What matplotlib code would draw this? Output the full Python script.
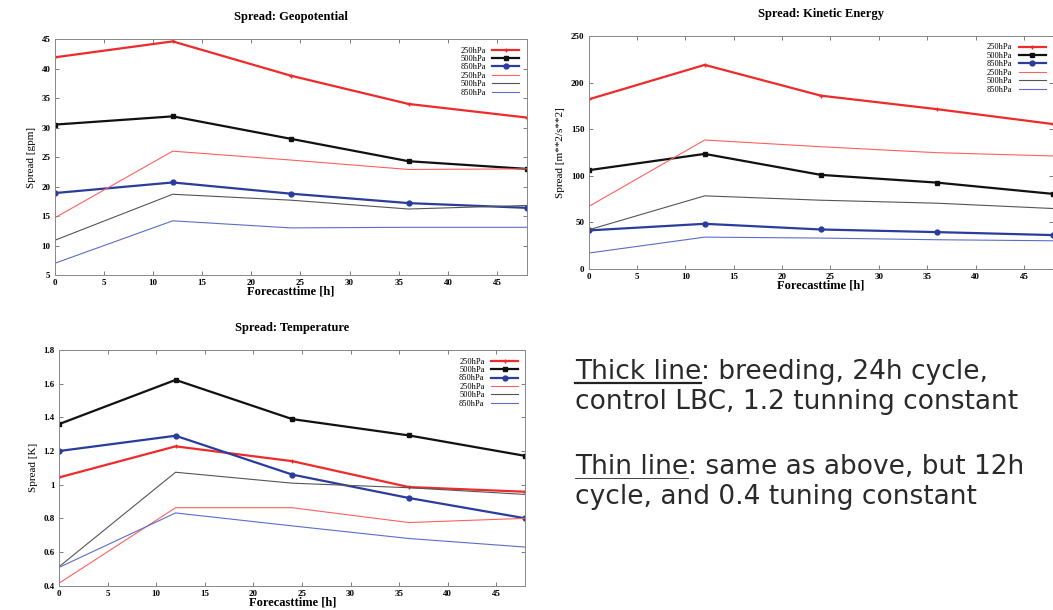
import matplotlib
matplotlib.use("Agg")
from matplotlib import pyplot as plt
from matplotlib.lines import Line2D

hours = [0, 12, 24, 36, 48]
levels = ['250hPa', '500hPa', '850hPa']

# geopotential spread [gpm]
geo_thick_250 = [41.9, 44.6, 38.8, 34.0, 31.7]
geo_thick_500 = [30.5, 31.9, 28.1, 24.3, 23.0]
geo_thick_850 = [18.9, 20.7, 18.8, 17.2, 16.4]
geo_thin_250 = [14.7, 26.0, 24.5, 22.9, 23.0]
geo_thin_500 = [10.9, 18.7, 17.7, 16.2, 16.8]
geo_thin_850 = [7.0, 14.2, 13.0, 13.1, 13.1]

# kinetic energy spread [m**2/s**2]
ke_thick_250 = [182, 219, 186, 171.5, 155.5]
ke_thick_500 = [106, 123.5, 101, 92.7, 80.6]
ke_thick_850 = [41.4, 48.5, 42.4, 39.6, 36.4]
ke_thin_250 = [67, 138.4, 131.2, 124.8, 121.3]
ke_thin_500 = [42, 78.5, 73.8, 70.6, 64.9]
ke_thin_850 = [17.1, 34.2, 33.2, 31.4, 30.3]

# temperature spread [K]
t_thick_250 = [1.043, 1.228, 1.14, 0.986, 0.958]
t_thick_500 = [1.36, 1.623, 1.39, 1.293, 1.171]
t_thick_850 = [1.20, 1.291, 1.06, 0.921, 0.80]
t_thin_250 = [0.414, 0.863, 0.863, 0.775, 0.80]
t_thin_500 = [0.512, 1.074, 1.009, 0.982, 0.942]
t_thin_850 = [0.508, 0.832, 0.755, 0.68, 0.629]

thick_colors = ['#ee2a2a', '#111111', '#2a3c9c']
thin_colors = ['#ff6060', '#555555', '#5a6ec8']
markers = ['+', 's', 'o']

serif = 'Liberation Serif'

fig = plt.figure(figsize=(10.53, 6.10), dpi=100)


def panel(rect, title, ylabel, thick, thin, ylim, yticks, yticklabels):
    ax = fig.add_axes(rect)
    for i in range(3):
        ax.plot(hours, thick[i], color=thick_colors[i], lw=1.6,
                marker=markers[i], ms=3.5, mew=1.0, label=levels[i])
    for i in range(3):
        ax.plot(hours, thin[i], color=thin_colors[i], lw=0.8, label=levels[i])
    ax.set_xlim(0, 48)
    ax.set_ylim(*ylim)
    ax.set_xticks(range(0, 50, 5))
    ax.set_yticks(yticks)
    ax.set_yticklabels(yticklabels)
    ax.tick_params(direction='in', top=True, right=True, length=3,
                   width=0.6, color='#666666', labelsize=6.5, pad=3)
    for lab in ax.get_xticklabels() + ax.get_yticklabels():
        lab.set_family(serif)
        lab.set_fontweight('bold')
    for s in ax.spines.values():
        s.set_color('#888888')
        s.set_linewidth(0.7)
    ax.set_title(title, family=serif, fontweight='bold', fontsize=9, pad=14)
    ax.set_xlabel('Forecasttime [h]', family=serif, fontweight='bold',
                  fontsize=9, labelpad=-1)
    ax.set_ylabel(ylabel, family=serif, fontsize=8, labelpad=4)
    ax.legend(loc='upper right', frameon=False, markerfirst=False,
              handlelength=3.2, labelspacing=0.05,
              borderaxespad=0.5, handletextpad=0.8,
              prop={'family': serif, 'size': 6})
    return ax


panel([0.052, 0.549, 0.448, 0.387], 'Spread: Geopotential', 'Spread [gpm]',
      [geo_thick_250, geo_thick_500, geo_thick_850],
      [geo_thin_250, geo_thin_500, geo_thin_850],
      (5, 45), range(5, 50, 5), [str(v) for v in range(5, 50, 5)])

panel([0.559, 0.559, 0.441, 0.382], 'Spread: Kinetic Energy',
      'Spread [m**2/s**2]',
      [ke_thick_250, ke_thick_500, ke_thick_850],
      [ke_thin_250, ke_thin_500, ke_thin_850],
      (0, 250), range(0, 300, 50), [str(v) for v in range(0, 300, 50)])

t_ticks = [0.4, 0.6, 0.8, 1.0, 1.2, 1.4, 1.6, 1.8]
t_labels = ['0.4', '0.6', '0.8', '1', '1.2', '1.4', '1.6', '1.8']
panel([0.056, 0.040, 0.443, 0.386], 'Spread: Temperature', 'Spread [K]',
      [t_thick_250, t_thick_500, t_thick_850],
      [t_thin_250, t_thin_500, t_thin_850],
      (0.4, 1.8), t_ticks, t_labels)

# explanatory text with underlined lead words
note_font = dict(family='DejaVu Sans', fontsize=19, color='#2a2a2a')
renderer = fig.canvas.get_renderer()
H = 610.0
W = 1053.0


def note(x, y, head, rest, under_lw):
    t1 = fig.text(x / W, 1 - y / H, head, va='baseline', **note_font)
    bb = t1.get_window_extent(renderer)
    fig.text(bb.x1 / W, 1 - y / H, rest, va='baseline', **note_font)
    uy = 1 - (y + 4) / H
    fig.add_artist(Line2D([bb.x0 / W, bb.x1 / W], [uy, uy],
                          color='#222222', lw=under_lw,
                          transform=fig.transFigure))


note(575, 379, 'Thick line', ': breeding, 24h cycle,', 1.6)
fig.text(575 / W, 1 - 409 / H, 'control LBC, 1.2 tunning constant',
         va='baseline', **note_font)
note(575, 474, 'Thin line', ': same as above, but 12h', 0.6)
fig.text(575 / W, 1 - 504 / H, 'cycle, and 0.4 tuning constant',
         va='baseline', **note_font)

fig.savefig('out.png', dpi=100)
